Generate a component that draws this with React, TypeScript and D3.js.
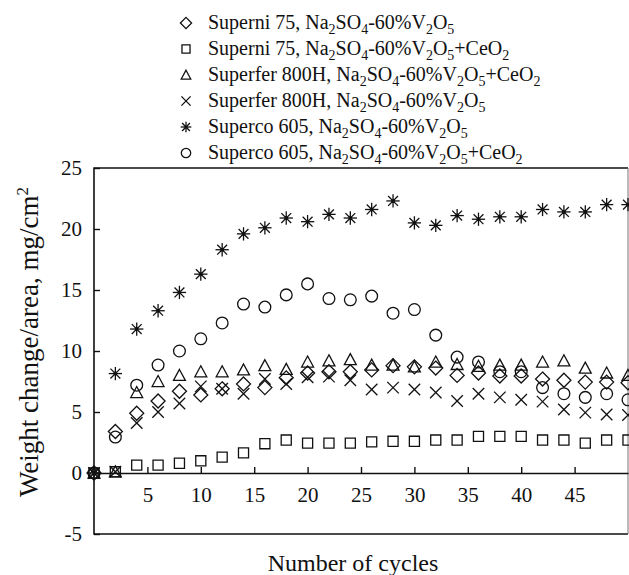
import { useEffect, useRef } from 'react'
import * as d3 from 'd3'

// cycles at which every alloy was weighed
const cycles = [0, 2, 4, 6, 8, 10, 12, 14, 16, 18, 20, 22, 24, 26, 28, 30, 32, 34, 36, 38, 40, 42, 44, 46, 48, 50]

// weight change / area, mg/cm2
const superni75 = [0, 3.4, 4.9, 5.9, 6.7, 6.4, 6.9, 7.3, 7.0, 7.8, 8.2, 8.3, 8.3, 8.45, 8.8, 8.7, 8.6, 8.0, 8.2, 7.95, 7.95, 7.7, 7.6, 7.45, 7.45, 7.4]
const superni75Ce = [0, 0.1, 0.65, 0.65, 0.8, 1.0, 1.3, 1.65, 2.4, 2.7, 2.45, 2.45, 2.45, 2.55, 2.6, 2.6, 2.7, 2.7, 3.0, 3.0, 3.0, 2.7, 2.7, 2.45, 2.7, 2.7]
const superferCe = [0, 0.1, 6.6, 7.5, 8.0, 8.3, 8.3, 8.45, 8.8, 8.5, 9.1, 9.2, 9.3, 8.85, 8.85, 8.7, 9.1, 8.9, 8.75, 8.85, 8.85, 9.1, 9.2, 8.6, 8.2, 8.0]
const superfer = [0, 0.1, 4.1, 5.0, 5.7, 7.1, 6.9, 6.5, 7.7, 7.3, 7.85, 7.9, 7.6, 6.85, 7.0, 6.85, 6.6, 5.9, 6.5, 6.2, 6.0, 5.85, 5.2, 4.95, 4.8, 4.75]
const superco = [0, 8.15, 11.8, 13.3, 14.8, 16.3, 18.3, 19.6, 20.1, 20.9, 20.6, 21.2, 20.9, 21.6, 22.3, 20.5, 20.3, 21.1, 20.8, 21.0, 21.0, 21.6, 21.4, 21.4, 22.0, 22.0]
const supercoCe = [0, 2.95, 7.2, 8.85, 10.0, 11.0, 12.3, 13.85, 13.6, 14.6, 15.5, 14.3, 14.2, 14.5, 13.1, 13.4, 11.3, 9.5, 9.1, 8.3, 8.3, 7.0, 6.5, 6.2, 6.5, 6.0]

const legendLabels = [
  'Superni 75, Na_2SO_4-60%V_2O_5',
  'Superni 75, Na_2SO_4-60%V_2O_5+CeO_2',
  'Superfer 800H, Na_2SO_4-60%V_2O_5+CeO_2',
  'Superfer 800H, Na_2SO_4-60%V_2O_5',
  'Superco 605, Na_2SO_4-60%V_2O_5',
  'Superco 605, Na_2SO_4-60%V_2O_5+CeO_2',
]
const shapes = ['diamond', 'square', 'triangle', 'cross', 'asterisk', 'circle']
const seriesValues = [superni75, superni75Ce, superferCe, superfer, superco, supercoCe]

const xTicks = [5, 10, 15, 20, 25, 30, 35, 40, 45]
const yTicks = [-5, 0, 5, 10, 15, 20, 25]

const FONT = '"Liberation Serif", "Times New Roman", serif'
const INK = '#111'

function drawMarker(g, shape, h) {
  const line = (x1, y1, x2, y2) =>
    g.append('line').attr('x1', x1).attr('y1', y1).attr('x2', x2).attr('y2', y2)
  if (shape === 'diamond') {
    g.append('path').attr('d', `M0,${-h}L${h},0L0,${h}L${-h},0Z`)
  } else if (shape === 'square') {
    const s = h * 0.72
    g.append('path').attr('d', `M${-s},${-s}H${s}V${s}H${-s}Z`)
  } else if (shape === 'triangle') {
    const s = h * 0.85
    g.append('path').attr('d', `M0,${-s}L${s},${s * 0.85}L${-s},${s * 0.85}Z`)
  } else if (shape === 'cross') {
    const s = h * 0.82
    line(-s, -s, s, s)
    line(-s, s, s, -s)
  } else if (shape === 'asterisk') {
    const s = h * 0.95
    const d = s * 0.74
    line(-s, 0, s, 0)
    line(0, -s, 0, s)
    line(-d, -d, d, d)
    line(-d, d, d, -d)
    g.append('circle').attr('r', h * 0.28).attr('fill', INK).attr('stroke', 'none')
  } else {
    g.append('circle').attr('r', h * 0.84)
  }
}

function appendSubText(text, label, subSize) {
  const parts = label.split(/_(\d)/)
  parts.forEach((p, i) => {
    if (!p) return
    if (i % 2 === 1) {
      text.append('tspan').attr('font-size', subSize).attr('dy', 5).text(p)
    } else {
      const t = text.append('tspan').text(p)
      if (i > 0) t.attr('dy', -5)
    }
  })
}

function WeightChart() {
  const ref = useRef(null)

  useEffect(() => {
    const el = ref.current
    if (!el) return
    const width = 629
    const height = 575
    const left = 94
    const right = 628
    const top = 168
    const bottom = 534
    d3.select(el).selectAll('*').remove()

    const svg = d3
      .select(el)
      .append('svg')
      .attr('width', width)
      .attr('height', height)
      .style('position', 'absolute')
      .style('left', 0)
      .style('top', 0)
      .style('background', '#fff')
      .attr('font-family', FONT)

    const x = d3.scaleLinear().domain([0, 50]).range([left, right])
    const y = d3.scaleLinear().domain([-5, 25]).range([bottom, top])

    // frame
    const frame = svg.append('g').attr('stroke', INK).attr('stroke-width', 1.6).attr('fill', 'none')
    frame.append('path').attr('d', `M${right},${top}H${left}V${bottom}H${right}`)
    frame.append('line').attr('x1', right).attr('x2', right).attr('y1', top).attr('y2', bottom)
      .attr('stroke', '#777').attr('stroke-width', 1)

    // x axis on the zero line, ticks inward
    svg
      .append('g')
      .attr('transform', `translate(0,${y(0)})`)
      .call(d3.axisBottom(x).tickValues(xTicks).tickSizeInner(-6).tickSizeOuter(0).tickPadding(14))
      .call((g) => g.select('.domain').attr('stroke', INK).attr('stroke-width', 1.6))
      .call((g) => g.selectAll('.tick line').attr('stroke', INK).attr('stroke-width', 1.4))
      .call((g) => g.selectAll('text').attr('font-size', 21).attr('font-family', FONT).attr('fill', INK))

    svg
      .append('g')
      .attr('transform', `translate(${left},0)`)
      .call(
        d3
          .axisLeft(y)
          .tickValues(yTicks)
          .tickFormat((d) => String(d))
          .tickSizeInner(-6)
          .tickSizeOuter(0)
          .tickPadding(12),
      )
      .call((g) => g.select('.domain').remove())
      .call((g) => g.selectAll('.tick line').attr('stroke', INK).attr('stroke-width', 1.4))
      .call((g) => g.selectAll('text').attr('font-size', 21).attr('font-family', FONT).attr('fill', INK))

    // points
    seriesValues.forEach((vals, si) => {
      svg
        .append('g')
        .attr('fill', 'none')
        .attr('stroke', INK)
        .attr('stroke-width', 1.3)
        .selectAll('g')
        .data(vals)
        .join('g')
        .attr('transform', (d, i) => `translate(${x(cycles[i])},${y(d)})`)
        .each(function () {
          drawMarker(d3.select(this), shapes[si], 7)
        })
    })

    // legend
    const legend = svg.append('g')
    legendLabels.forEach((label, i) => {
      const cy = 23 + i * 26
      const m = legend
        .append('g')
        .attr('transform', `translate(186,${cy})`)
        .attr('fill', 'none')
        .attr('stroke', INK)
        .attr('stroke-width', 1.3)
      drawMarker(m, shapes[i], 5.6)
      const t = legend
        .append('text')
        .attr('x', 208)
        .attr('y', cy + 6)
        .attr('font-size', 20)
        .attr('fill', INK)
      appendSubText(t, label, 14)
    })

    // axis titles
    svg
      .append('text')
      .attr('x', 353)
      .attr('y', 571)
      .attr('text-anchor', 'middle')
      .attr('font-size', 24)
      .attr('fill', INK)
      .text('Number of cycles')

    const yt = svg
      .append('text')
      .attr('transform', 'translate(38,342) rotate(-90)')
      .attr('text-anchor', 'middle')
      .attr('font-size', 27)
      .attr('fill', INK)
    yt.append('tspan').text('Weight change/area, mg/cm')
    yt.append('tspan').attr('font-size', 17).attr('dy', -10).text('2')
  }, [])

  return <div ref={ref} />
}

export default function App() {
  return <WeightChart />
}
